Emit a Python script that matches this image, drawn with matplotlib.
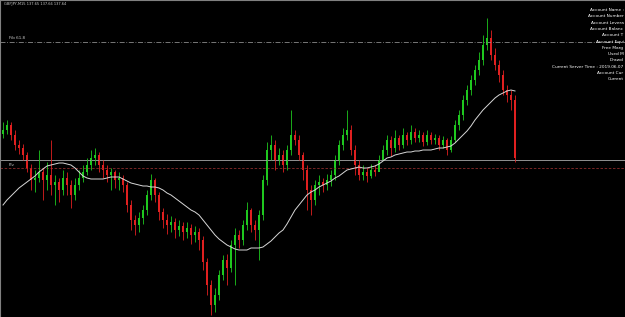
import matplotlib
matplotlib.use("Agg")
import matplotlib.pyplot as plt
import numpy as np

# price data (relative units), one entry per M15 bar
opens = [186, 190, 195, 185, 175, 172, 165, 152, 140, 142,
         148, 140, 145, 135, 138, 130, 142, 135, 125, 135,
         142, 148, 155, 162, 165, 155, 150, 145, 148, 140,
         142, 135, 115, 100, 95, 102, 110, 125, 140, 125,
         108, 100, 95, 98, 90, 94, 88, 92, 85, 88,
         80, 58, 35, 15, 25, 45, 60, 52, 75, 85,
         80, 95, 110, 95, 90, 105, 140, 170, 175, 160,
         165, 155, 170, 185, 180, 165, 150, 130, 120, 135,
         138, 135, 140, 145, 160, 175, 185, 190, 170, 155,
         145, 148, 144, 150, 148, 160, 170, 180, 172, 182,
         175, 185, 180, 188, 182, 185, 178, 185, 180, 182,
         175, 180, 170, 180, 195, 205, 220, 230, 240, 250,
         260, 275, 282, 265, 255, 245, 230, 225, 220]
closes = [190, 195, 185, 175, 172, 165, 152, 140, 142, 148,
          140, 145, 135, 138, 130, 142, 135, 125, 135, 142,
          148, 155, 162, 165, 155, 150, 145, 148, 140, 142,
          135, 115, 100, 95, 102, 110, 125, 140, 125, 108,
          100, 95, 98, 90, 94, 88, 92, 85, 88, 80,
          58, 35, 15, 25, 45, 60, 52, 75, 85, 80,
          95, 110, 95, 90, 105, 140, 170, 175, 160, 165,
          155, 170, 185, 180, 165, 150, 130, 120, 135, 138,
          135, 140, 145, 160, 175, 185, 190, 170, 155, 145,
          148, 144, 150, 148, 160, 170, 180, 172, 182, 175,
          185, 180, 188, 182, 185, 178, 185, 180, 182, 175,
          180, 170, 180, 195, 205, 220, 230, 240, 250, 260,
          275, 282, 265, 255, 245, 230, 225, 220, 162]
highs = [198, 200, 198, 190, 180, 176, 168, 156, 150, 170,
         152, 158, 180, 145, 142, 150, 148, 140, 142, 150,
         155, 162, 170, 172, 168, 160, 155, 152, 150, 148,
         145, 138, 120, 105, 108, 115, 130, 146, 142, 128,
         112, 106, 104, 102, 100, 98, 98, 96, 94, 92,
         84, 62, 40, 32, 50, 65, 66, 80, 92, 90,
         100, 118, 112, 100, 110, 145, 178, 185, 180, 172,
         170, 175, 210, 190, 185, 168, 155, 135, 140, 145,
         142, 146, 150, 165, 180, 192, 210, 195, 175, 160,
         155, 152, 156, 155, 165, 175, 185, 184, 190, 185,
         192, 188, 195, 192, 190, 188, 190, 188, 186, 185,
         184, 182, 184, 200, 210, 225, 235, 245, 255, 268,
         285, 302, 290, 272, 260, 250, 235, 230, 225]
lows = [182, 186, 180, 170, 166, 160, 148, 130, 128, 138,
        120, 130, 125, 115, 118, 125, 125, 112, 120, 130,
        138, 145, 150, 155, 148, 142, 138, 130, 132, 130,
        128, 108, 90, 85, 88, 96, 105, 120, 118, 100,
        92, 86, 88, 82, 84, 80, 82, 76, 78, 70,
        50, 25, 5, 8, 20, 40, 35, 48, 35, 72,
        75, 90, 88, 80, 60, 100, 135, 160, 150, 155,
        148, 150, 165, 175, 160, 140, 110, 105, 115, 125,
        128, 130, 134, 140, 155, 170, 180, 165, 145, 140,
        140, 138, 142, 144, 150, 160, 165, 164, 168, 170,
        172, 175, 176, 178, 178, 174, 175, 176, 176, 170,
        172, 165, 168, 178, 190, 200, 215, 225, 235, 245,
        255, 270, 260, 250, 238, 225, 218, 210, 158]
# moving average as shown on the chart
ma = [115, 120, 124, 128, 132, 135, 138, 141, 144, 148,
      151, 154, 155, 156, 157, 157, 156, 155, 152, 148,
      144, 142, 141, 141, 141, 141, 142, 143, 143, 143,
      141, 139, 137, 136, 135, 134, 134, 133, 133, 132,
      130, 127, 125, 122, 119, 116, 113, 110, 108, 105,
      100, 95, 90, 85, 81, 78, 75, 73, 71, 70,
      70, 70, 72, 72, 72, 73, 76, 79, 83, 87,
      90, 96, 103, 110, 115, 120, 125, 128, 130, 133,
      135, 137, 139, 142, 144, 147, 150, 151, 152, 153,
      152, 152, 153, 154, 156, 159, 162, 163, 165, 166,
      167, 168, 168, 169, 169, 170, 170, 170, 171, 172,
      172, 173, 174, 177, 181, 185, 189, 194, 200, 205,
      210, 214, 218, 222, 225, 227, 229, 230, 229]

bid_level = 160
fibo_level = 278
pivot_level = 152

title = "GBPJPY,M15 137.65 137.66 137.64"
# account panel, cut off at the window edge as on the screenshot
info_lines = ["Account Name :", "Account Number", "Account Levera",
              "Account Balanc", "Account T", "Account Equi",
              "Free Marg", "Used M", "Drawd",
              "Current Server Time : 2019.06.07", "Account Cur", "Current"]

o = np.array(opens)
c = np.array(closes)
x = np.arange(len(o))
up = c >= o
col = np.where(up, "#1fc81f", "#e02020")

fig = plt.figure(figsize=(6.25, 3.17), dpi=100, facecolor="black")
ax = fig.add_axes([0, 0, 1, 1], facecolor="black")

# horizontal levels
ax.axhline(bid_level, color="#a8a8a8", lw=0.6)
ax.axhline(fibo_level, color="#8a8a8a", lw=0.6, ls=(0, (6, 2, 1, 2)))
ax.axhline(pivot_level, color="#8c2a2a", lw=0.6, ls=(0, (3, 2)))

# candles
ax.vlines(x, lows, highs, colors=col, lw=0.6)
body = np.maximum(np.abs(c - o), 0.8)
ax.bar(x, body, bottom=np.minimum(o, c), width=0.6, color=col, linewidth=0)

# moving average
ax.plot(x, ma, color="#d8d8d8", lw=0.7)

ax.set_xlim(-0.75, 155.5)
ax.set_ylim(3, 320)
ax.set_xticks([])
ax.set_yticks([])
for s in ["bottom", "right"]:
    ax.spines[s].set_visible(False)
for s in ["left", "top"]:
    ax.spines[s].set_color("#808080")
    ax.spines[s].set_linewidth(0.8)

# labels
fig.text(4 / 625, 1 - 4 / 317, title, color="#c8c8c8", fontsize=2.6,
         va="center", ha="left")
ax.text(1.5, fibo_level + 2, "Fib 61.8", color="#c8c8c8", fontsize=3.0,
        va="bottom")
ax.text(1.5, pivot_level + 1, "Piv", color="#c8c8c8", fontsize=3.0,
        va="bottom")
for i, line in enumerate(info_lines):
    fig.text(623.5 / 625, 1 - (10 + 6.3 * i) / 317, line, color="white",
             fontsize=3.1, va="center", ha="right")

fig.savefig("out.png", dpi=100, facecolor="black")
